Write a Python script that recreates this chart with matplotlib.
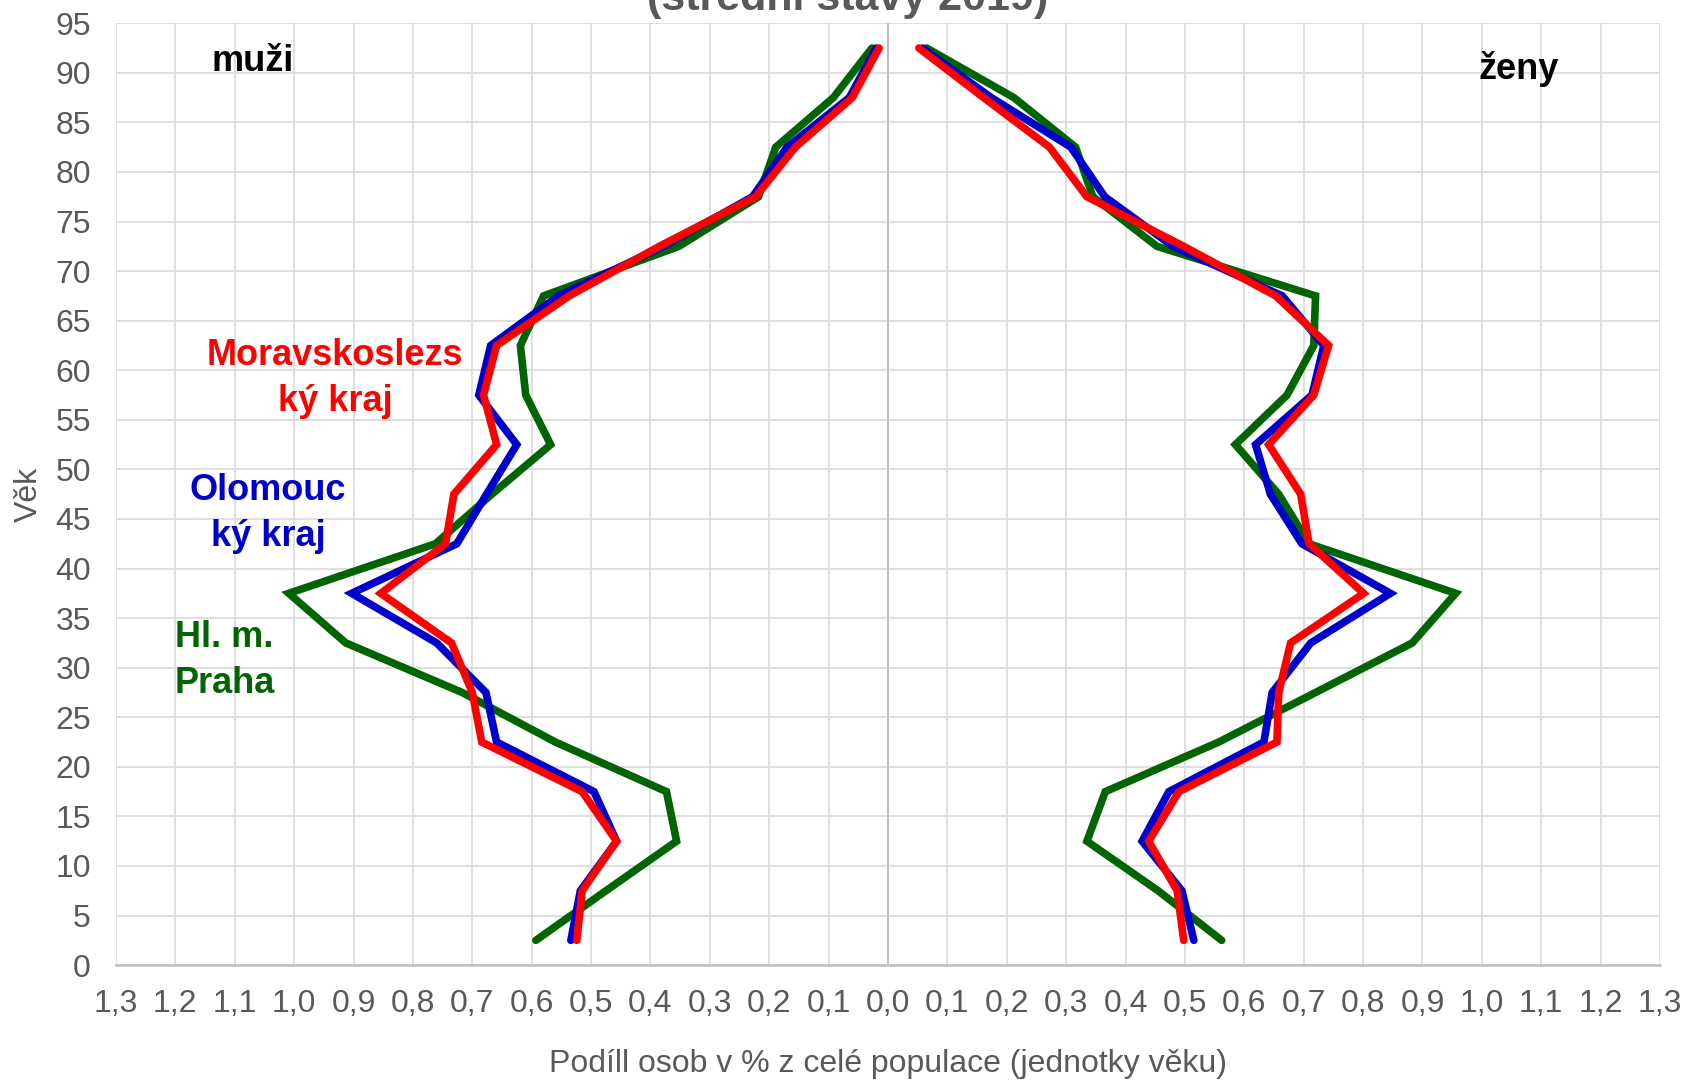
import numpy as np
import matplotlib.pyplot as plt

plt.rcParams['font.family'] = ['Liberation Sans', 'DejaVu Sans']

# age groups 0-4, 5-9, ... 90-94 plotted at their midpoints
vek = [2.5, 7.5, 12.5, 17.5, 22.5, 27.5, 32.5, 37.5, 42.5, 47.5,
       52.5, 57.5, 62.5, 67.5, 72.5, 77.5, 82.5, 87.5, 92.5]

# share of population in % per single year of age - men
muzi_praha = [0.593, 0.475, 0.356, 0.373, 0.56, 0.717, 0.913, 1.009, 0.762, 0.667,
              0.568, 0.61, 0.619, 0.58, 0.352, 0.218, 0.189, 0.092, 0.027]
muzi_olomouc = [0.534, 0.518, 0.457, 0.495, 0.659, 0.677, 0.76, 0.903, 0.726, 0.676,
                0.625, 0.689, 0.669, 0.555, 0.378, 0.228, 0.17, 0.065, 0.02]
muzi_msk = [0.524, 0.515, 0.457, 0.515, 0.684, 0.70, 0.735, 0.854, 0.745, 0.731,
            0.659, 0.681, 0.659, 0.537, 0.385, 0.223, 0.156, 0.06, 0.015]

# women
zeny_praha = [0.562, 0.455, 0.335, 0.366, 0.557, 0.72, 0.883, 0.956, 0.709, 0.658,
              0.585, 0.672, 0.717, 0.72, 0.453, 0.345, 0.316, 0.212, 0.065]
zeny_olomouc = [0.515, 0.495, 0.428, 0.473, 0.633, 0.647, 0.712, 0.846, 0.697, 0.644,
                0.619, 0.714, 0.734, 0.664, 0.48, 0.365, 0.308, 0.174, 0.058]
zeny_msk = [0.498, 0.487, 0.439, 0.49, 0.655, 0.658, 0.678, 0.801, 0.709, 0.695,
            0.641, 0.717, 0.742, 0.653, 0.498, 0.335, 0.272, 0.161, 0.052]

x_ticks = np.round(np.arange(-1.3, 1.31, 0.1), 1)
y_ticks = np.arange(0, 96, 5)

zelena = '#006400'
modra = '#0000CC'
cervena = '#FF0000'
seda = '#595959'

fig = plt.figure(figsize=(16.88, 10.82), dpi=100)
ax = fig.add_axes([0.0687, 0.108, 0.9147, 0.8705])

lw = 5.5
for data, c in [(muzi_praha, zelena), (muzi_olomouc, modra), (muzi_msk, cervena)]:
    ax.plot(-np.array(data), vek, color=c, lw=lw, solid_capstyle='round', solid_joinstyle='miter')
for data, c in [(zeny_praha, zelena), (zeny_olomouc, modra), (zeny_msk, cervena)]:
    ax.plot(data, vek, color=c, lw=lw, solid_capstyle='round', solid_joinstyle='miter')

ax.set_xlim(-1.3, 1.3)
ax.set_ylim(0, 95)
ax.set_xticks(x_ticks)
ax.set_xticklabels([f"{abs(v):.1f}".replace('.', ',') for v in x_ticks])
ax.set_yticks(y_ticks)
ax.tick_params(length=0, labelsize=23, labelcolor=seda)
ax.tick_params(axis='x', pad=17)
ax.tick_params(axis='y', pad=18)

ax.grid(True, color='#D9D9D9', lw=1.2)
ax.set_axisbelow(True)
for s in ['top', 'right', 'left']:
    ax.spines[s].set_visible(False)
ax.spines['bottom'].set_color('#BFBFBF')
ax.spines['bottom'].set_linewidth(1.8)
ax.axvline(0, color='#BFBFBF', lw=1.5, zorder=1)

ax.set_xlabel('Podíll osob v % z celé populace (jednotky věku)', fontsize=23, color=seda)
ax.xaxis.label.set_va('baseline')
ax.xaxis.set_label_coords(0.5, -0.1136)
ax.set_ylabel('Věk', fontsize=23, color=seda)
ax.yaxis.set_label_coords(-0.047, 0.5)

fig.text(0.502, 0.9908, '(střední stavy 2019)', fontsize=31, fontweight='bold',
         color=seda, ha='center', va='baseline')

ax.text(-1.07, 90.2, 'muži', fontsize=26, fontweight='bold', color='black', ha='center', va='baseline')
ax.text(1.062, 89.4, 'ženy', fontsize=26, fontweight='bold', color='black', ha='center', va='baseline')

# region names, two lines each
popisky = [(-0.931, 60.5, 55.9, 'Moravskoslezs', 'ký kraj', cervena),
           (-1.044, 46.9, 42.3, 'Olomouc', 'ký kraj', modra),
           (-1.117, 32.1, 27.4, 'Hl. m.', 'Praha', zelena)]
for x, y1, y2, r1, r2, c in popisky:
    ax.text(x, y1, r1, fontsize=26, fontweight='bold', color=c, ha='center', va='baseline')
    ax.text(x, y2, r2, fontsize=26, fontweight='bold', color=c, ha='center', va='baseline')

fig.savefig('out.png', dpi=100)
